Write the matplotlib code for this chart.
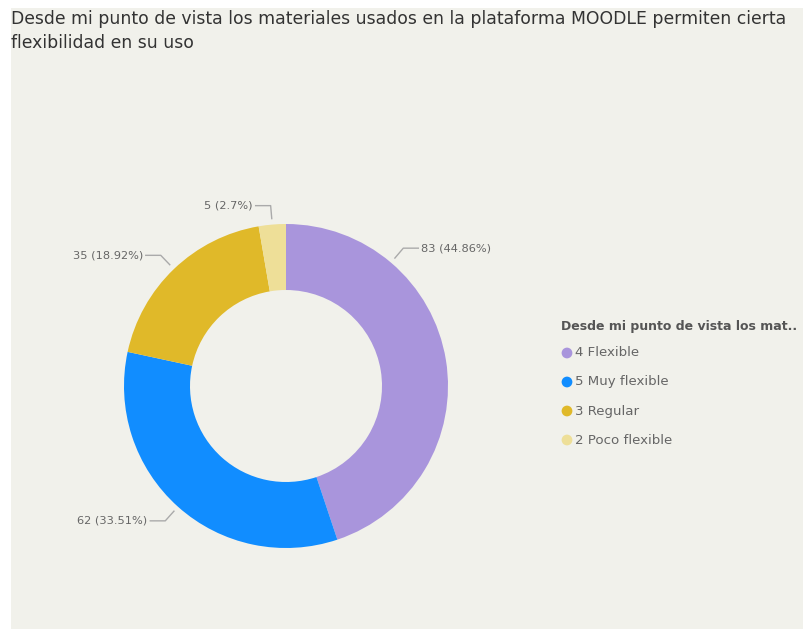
import numpy as np
import matplotlib.pyplot as plt
from matplotlib.patches import Rectangle

# data
categories = ["4 Flexible", "5 Muy flexible", "3 Regular", "2 Poco flexible"]
counts = [83, 62, 35, 5]
pcts = ["44.86%", "33.51%", "18.92%", "2.7%"]
colors = ["#A995DC", "#118DFF", "#E0B929", "#EEDF98"]

title = ("Desde mi punto de vista los materiales usados en la plataforma MOODLE permiten cierta\n"
         "flexibilidad en su uso")
legend_title = "Desde mi punto de vista los mat.."

W, H = 804, 629
fig = plt.figure(figsize=(W / 100, H / 100), dpi=100)
fig.patch.set_facecolor("white")
ax = fig.add_axes([0, 0, 1, 1])

# panel background (pixel coords, y flipped)
ax.add_patch(Rectangle((11, 0), W - 11, H - 8, facecolor="#F1F1EB", edgecolor="none", zorder=0))

cx, cy, R = 286, H - 386, 162
wedges, _ = ax.pie(counts, colors=colors, startangle=90, counterclock=False,
                   radius=R, center=(cx, cy), frame=True,
                   wedgeprops=dict(width=R - 96, edgecolor="none"))
ax.set_xlim(0, W)
ax.set_ylim(0, H)
ax.set_aspect("equal")
ax.axis("off")

# leader lines: the purple one is nudged by the renderer, others sit at mid-angle
angle_override = [49.6, None, None, None]
for w, n, p, ov in zip(wedges, counts, pcts, angle_override):
    ang = ov if ov is not None else (w.theta1 + w.theta2) / 2
    a = np.deg2rad(ang)
    x0, y0 = cx + 168 * np.cos(a), cy + 168 * np.sin(a)
    x1, y1 = cx + 181 * np.cos(a), cy + 181 * np.sin(a)
    side = 1 if np.cos(a) > 0 else -1
    x2 = x1 + side * 15
    ax.plot([x0, x1, x2], [y0, y1, y1], color="#AAAAAA", lw=1, zorder=3)
    ax.text(x2 + side * 3, y1, f"{n} ({p})", fontsize=8.2, color="#666666",
            ha="left" if side > 0 else "right", va="center")

# title
ax.text(11, H - 10, title, fontsize=12.4, color="#333333", va="top", ha="left",
        linespacing=1.4)

# legend
ax.text(561, H - 327, legend_title, fontsize=9.0, fontweight="bold", color="#555555",
        va="center", ha="left")
for i, (c, lab) in enumerate(zip(colors, categories)):
    yy = H - 353 - 29 * i
    ax.scatter([567], [yy], s=60, color=c, zorder=4, edgecolors="none")
    ax.text(575, yy, lab, fontsize=9.6, color="#666666", va="center", ha="left")

fig.savefig("out.png", dpi=100, facecolor=fig.get_facecolor())
